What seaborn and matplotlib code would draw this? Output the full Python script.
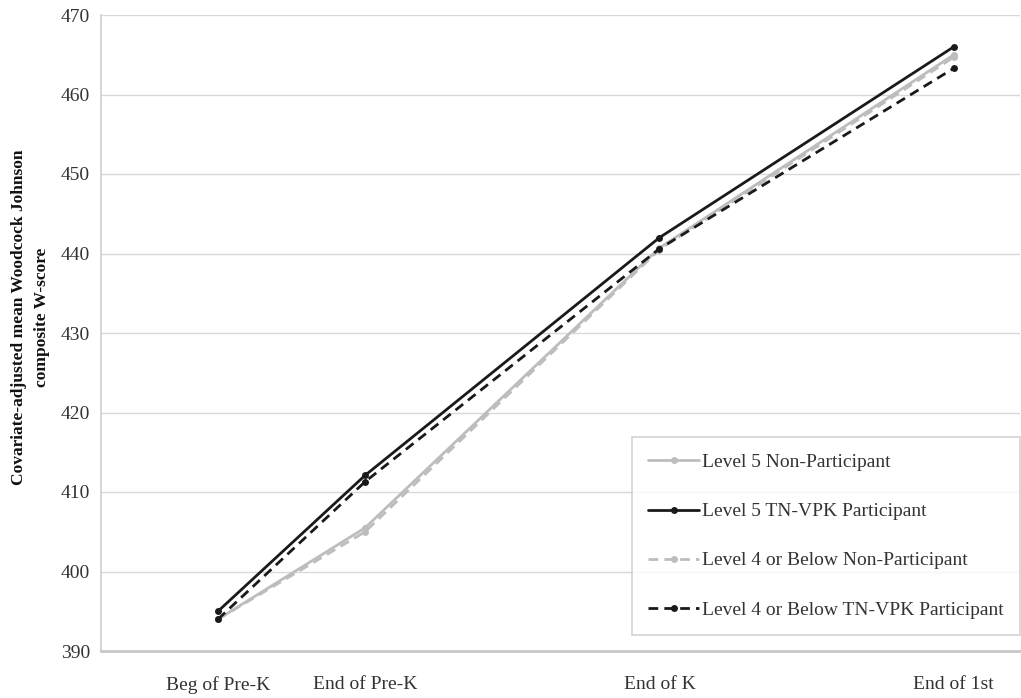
import matplotlib
matplotlib.use("Agg")
import matplotlib.pyplot as plt
import seaborn as sns
import pandas as pd

time_labels = ["Beg of Pre-K", "End of Pre-K", "End of K", "End of 1st"]
time_pos = [0, 1, 3, 5]

series_names = ["Level 5 Non-Participant", "Level 5 TN-VPK Participant",
                "Level 4 or Below Non-Participant", "Level 4 or Below TN-VPK Participant"]
l5_non = [394.0, 405.5, 440.7, 465.0]
l5_vpk = [395.0, 412.1, 442.0, 466.0]
l4_non = [394.0, 405.0, 440.5, 464.7]
l4_vpk = [394.0, 411.3, 440.6, 463.3]

sns.set_theme(style="white")
plt.rcParams['font.family'] = ['Liberation Serif', 'DejaVu Serif']

rows = []
for name, vals in zip(series_names, [l5_non, l5_vpk, l4_non, l4_vpk]):
    for p, v in zip(time_pos, vals):
        rows.append({"series": name, "time": p, "score": v})
df = pd.DataFrame(rows)

grey = "#BDBDBD"
black = "#1A1A1A"
palette = {series_names[0]: grey, series_names[1]: black,
           series_names[2]: grey, series_names[3]: black}
dashes = {series_names[0]: "", series_names[1]: "",
          series_names[2]: (3.5, 2.2), series_names[3]: (3.5, 2.2)}

fig = plt.figure(figsize=(10.21, 6.98), dpi=100)
ax = fig.add_axes([101/1021, 47/698, 919/1021, 636/698])

sns.lineplot(data=df, x="time", y="score", hue="series", style="series",
             hue_order=series_names, style_order=series_names,
             palette=palette, dashes=dashes, markers=["o", "o", "o", "o"],
             markersize=5, markeredgewidth=0, linewidth=2, ax=ax)

ax.set_xlim(-0.795, 5.45)
ax.set_ylim(390, 470)
ax.set_yticks(range(390, 471, 10))
ax.set_xticks(time_pos)
ax.set_xticklabels(time_labels)
ax.tick_params(axis='both', labelsize=14, colors="#333333", length=0)
ax.tick_params(axis='x', pad=18)
ax.tick_params(axis='y', pad=8)
ax.grid(axis='y', color="#D9D9D9", linewidth=1)
ax.grid(axis='x', visible=False)
ax.set_axisbelow(True)
for s in ["top", "right"]:
    ax.spines[s].set_visible(False)
ax.spines["left"].set_color("#D0D0D0")
ax.spines["bottom"].set_color("#C8C8C8")
ax.spines["bottom"].set_linewidth(2)
ax.set_xlabel("")
ax.set_ylabel("Covariate-adjusted mean Woodcock Johnson\ncomposite W-score",
              fontsize=12.5, fontweight="bold", color="#111111",
              linespacing=1.55)
ax.yaxis.set_label_coords(-0.056, 0.525)

handles, labels = ax.get_legend_handles_labels()
leg = ax.legend(handles, labels, loc="lower right", bbox_to_anchor=(1.0, 0.025),
                fontsize=14, frameon=True, fancybox=False, edgecolor="#C8C8C8",
                labelspacing=1.62, handlelength=2.6, handletextpad=0.15,
                borderpad=0.85, borderaxespad=0)
leg.get_frame().set_linewidth(1.2)
for t in leg.get_texts():
    t.set_color("#333333")

fig.savefig("out.png", dpi=100)
